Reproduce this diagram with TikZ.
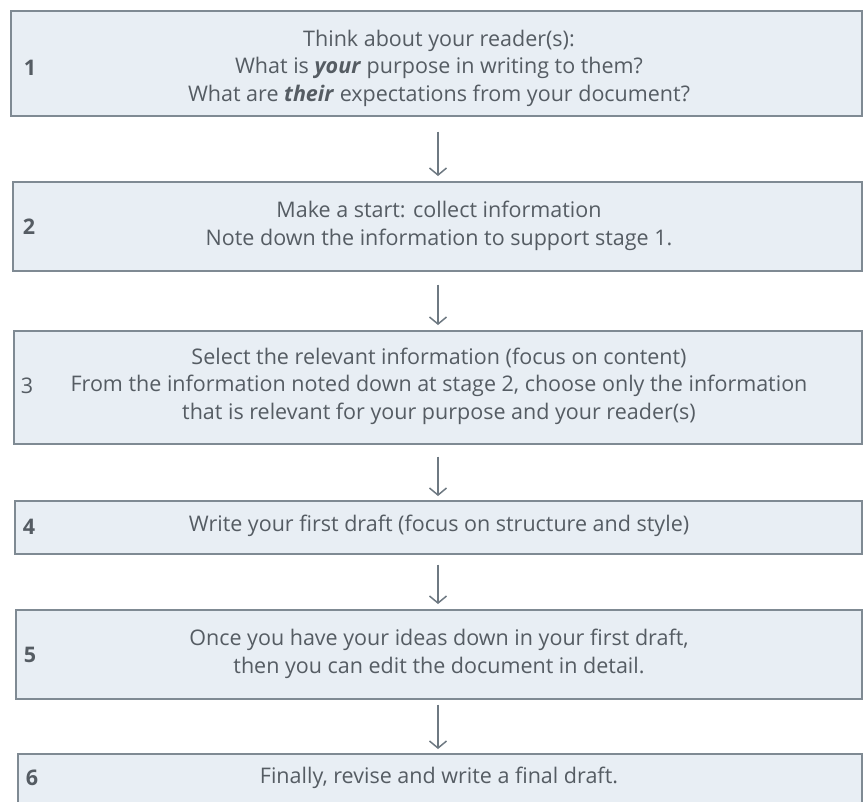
\documentclass[tikz,border=0pt]{standalone}
\usepackage{fontspec}
\setmainfont{Open Sans}
\usetikzlibrary{arrows.meta}
\definecolor{boxfill}{HTML}{E8EEF4}
\definecolor{boxline}{HTML}{7F8A93}
\definecolor{txt}{HTML}{555C63}
\definecolor{arrowc}{HTML}{6E7982}
\begin{document}
\begin{tikzpicture}[x=1pt,y=-1pt,
  box/.style={draw=boxline, fill=boxfill, line width=1.6pt, inner sep=0pt, anchor=north west},
  stagetext/.style={text=txt, align=center, font=\fontsize{21.5}{27.5}\selectfont, inner sep=0pt},
  num/.style={text=txt, font=\fontsize{21.5}{27.5}\selectfont\bfseries, inner sep=0pt},
  numlight/.style={text=txt, font=\fontsize{21.5}{27.5}\selectfont, inner sep=0pt},
  flow/.style={draw=arrowc, line width=1.5pt, -{Straight Barb[length=7pt,width=17pt]}}]
\clip (0,0) rectangle (864,801);
\fill[white] (0,0) rectangle (864,801);
% boxes
\node[box, minimum width=851pt, minimum height=105pt] (b1) at (10,10) {};
\node[box, minimum width=849pt, minimum height=89pt] (b2) at (12,181) {};
\node[box, minimum width=848pt, minimum height=113pt] (b3) at (13,330) {};
\node[box, minimum width=847pt, minimum height=53pt] (b4) at (14,500) {};
\node[box, minimum width=846pt, minimum height=89pt] (b5) at (15,609) {};
\node[box, minimum width=844pt, minimum height=70pt] (b6) at (17,753) {};
% texts
\node[stagetext] (t1) at (439,68) {Think about your reader(s):\\What is \textbf{\textit{your}} purpose in writing to them?\\What are \textbf{\textit{their}} expectations from your document?};
\node[stagetext] (t2) at (439,226) {Make a start: collect information\\Note down the information to support stage 1.};
\node[stagetext] (t3) at (439,386) {Select the relevant information (focus on content)\\From the information noted down at stage 2, choose only the information\hspace*{24pt}\\that is relevant for your purpose and your reader(s)};
\node[stagetext] (t4) at (439,526) {Write your first draft (focus on structure and style)};
\node[stagetext] (t5) at (439,654) {Once you have your ideas down in your first draft,\\then you can edit the document in detail.};
\node[stagetext] (t6) at (439,778) {Finally, revise and write a final draft.};
% numbers
\node[num] (n1) at (30,68) {1};
\node[num] (n2) at (29,227) {2};
\node[numlight] (n3) at (27,386) {3};
\node[num] (n4) at (29,527) {4};
\node[num] (n5) at (30,655) {5};
\node[num] (n6) at (32,778) {6};
% arrows
\coordinate (ax) at (438,0);
\draw[flow, shorten <=15pt, shorten >=5pt] (b1.south -| ax) -- (b2.north -| ax);
\draw[flow, shorten <=13pt, shorten >=5pt] (b2.south -| ax) -- (b3.north -| ax);
\draw[flow, shorten <=12pt, shorten >=4pt] (b3.south -| ax) -- (b4.north -| ax);
\draw[flow, shorten <=10pt, shorten >=5pt] (b4.south -| ax) -- (b5.north -| ax);
\draw[flow, shorten <=5pt, shorten >=4pt] (b5.south -| ax) -- (b6.north -| ax);
\end{tikzpicture}
\end{document}
